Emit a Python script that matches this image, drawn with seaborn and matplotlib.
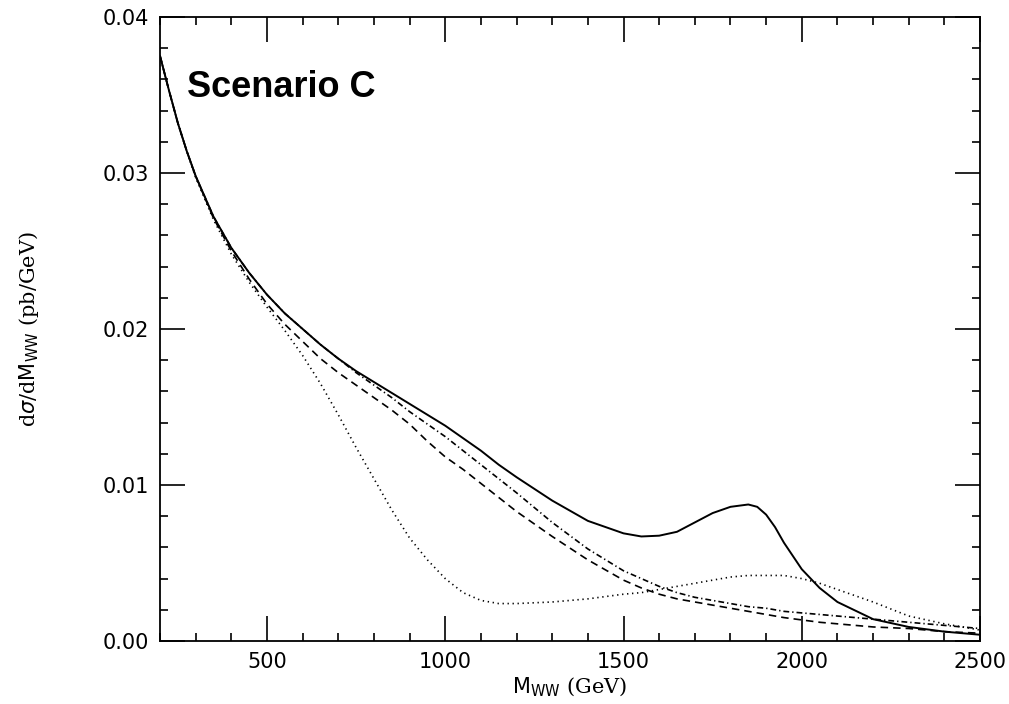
"""Scenario C: WW 불변질량 분포 (dσ/dM_WW) 재현"""

import matplotlib
matplotlib.use('Agg')
import matplotlib.pyplot as plt
from matplotlib.ticker import MultipleLocator, FormatStrFormatter
import seaborn as sns


# 그림에서 읽어낸 값들 (GeV, pb/GeV)
m_ww = [200, 225, 250, 275, 300, 350, 400, 450, 500, 550, 600, 650, 700, 750,
        800, 850, 900, 950, 1000, 1050, 1100, 1150, 1200, 1300, 1400, 1500,
        1550, 1600, 1650, 1700, 1750, 1800, 1850, 1875, 1900, 1925, 1950,
        2000, 2050, 2100, 2200, 2300, 2400, 2500]

# 실선: 전체
full = [.0375, .0353, .0332, .0314, .0298, .0272, .0252, .0236, .0222, .0210,
        .0200, .0190, .0181, .0173, .0166, .0159, .0152, .0145, .0138, .0130,
        .0122, .0113, .0105, .0090, .0077, .0069, .0067, .00675, .0070, .0076,
        .0082, .0086, .00875, .0086, .0081, .0073, .0063, .0046, .0034, .0025,
        .0014, .0009, .0006, .0004]

# 일점쇄선
dashdot = [.0375, .0353, .0332, .0314, .0298, .0272, .0252, .0236, .0222, .0210,
           .0200, .0190, .0181, .0172, .0164, .0156, .0147, .0139, .0131, .0122,
           .0113, .0104, .0095, .0076, .0059, .0045, .0040, .0035, .0031, .0028,
           .0026, .0024, .0022, .00215, .0021, .0020, .0019, .0018, .0017,
           .0016, .0014, .0012, .0010, .0008]

# 파선
dashed = [.0375, .0353, .0332, .0314, .0298, .0271, .0250, .0232, .0216, .0203,
          .0192, .0181, .0172, .0164, .0156, .0148, .0139, .0128, .0118, .0110,
          .0101, .0092, .0083, .0067, .0052, .0039, .0034, .0030, .0027, .0025,
          .0023, .0021, .0019, .0018, .0017, .0016, .0015, .00135, .0012,
          .0011, .0009, .0008, .0006, .0005]

# 점선
dotted = [.0375, .0353, .0332, .0314, .0297, .0270, .0248, .0230, .0214, .0199,
          .0183, .0165, .0145, .0124, .0104, .0084, .0066, .0052, .0040, .0031,
          .0026, .0024, .0024, .0025, .0027, .0030, .0031, .0033, .0035, .0037,
          .0039, .0041, .0042, .0042, .0042, .0042, .0042, .0040, .0037, .0033,
          .0025, .0016, .0011, .0007]

series = [
    (full, '-', 1.4),
    (dashdot, (0, (3.5, 1.8, 0.8, 1.8)), 1.2),
    (dashed, (0, (4.5, 3)), 1.2),
    (dotted, (0, (0.8, 2.2)), 1.2),
]

sns.set_style('ticks')
plt.rcParams['font.family'] = ['DejaVu Sans']

fig = plt.figure(figsize=(10.09, 7.04), dpi=100)
ax = fig.add_axes([0.1586, 0.0895, 0.8127, 0.8864])

for vals, ls, lw in series:
    sns.lineplot(x=m_ww, y=vals, ax=ax, color='black', linewidth=lw,
                 linestyle=ls, legend=False)

ax.set_xlim(200, 2500)
ax.set_ylim(0, 0.04)

ax.xaxis.set_major_locator(MultipleLocator(500))
ax.xaxis.set_minor_locator(MultipleLocator(100))
ax.yaxis.set_major_locator(MultipleLocator(0.01))
ax.yaxis.set_minor_locator(MultipleLocator(0.002))
ax.yaxis.set_major_formatter(FormatStrFormatter('%.2f'))

ax.tick_params(which='both', direction='in', top=True, right=True,
               width=1.2, color='black', labelcolor='black', labelsize=15,
               pad=8)
ax.tick_params(which='major', length=18)
ax.tick_params(which='minor', length=6)
for s in ax.spines.values():
    s.set_linewidth(1.3)
    s.set_color('black')

ax.set_xlabel(r'$\mathrm{M_{WW}}$ (GeV)', family='DejaVu Serif', fontsize=15,
              color='black', labelpad=3)
ax.set_ylabel(r'd$\sigma$/d$\mathrm{M_{WW}}$ (pb/GeV)', family='DejaVu Serif',
              fontsize=15, color='black', labelpad=44)

ax.text(0.033, 0.872, 'Scenario C', transform=ax.transAxes,
        family='Liberation Sans', fontweight='bold', fontsize=26,
        color='black', va='baseline', ha='left')

fig.savefig('out.png', dpi=100)
